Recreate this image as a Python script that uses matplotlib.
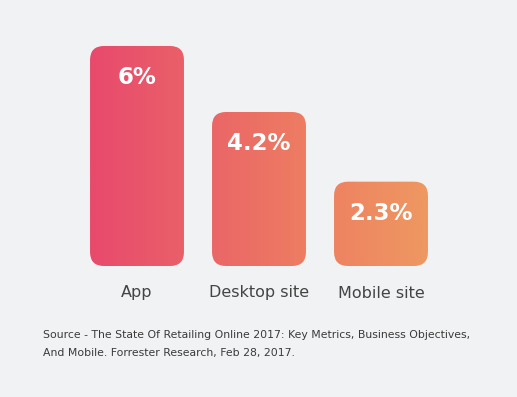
import numpy as np
import matplotlib
matplotlib.use("Agg")
import matplotlib.pyplot as plt
from matplotlib.patches import FancyBboxPatch
from matplotlib.colors import LinearSegmentedColormap

# data
categories = ["App", "Desktop site", "Mobile site"]
values = [6, 4.2, 2.3]
value_labels = ["6%", "4.2%", "2.3%"]
source = ("Source - The State Of Retailing Online 2017: Key Metrics, Business Objectives,\n"
          "And Mobile. Forrester Research, Feb 28, 2017.")

bg = "#f1f2f4"
W, H = 517, 397
fig = plt.figure(figsize=(W / 100, H / 100), dpi=100, facecolor=bg)

# axes placed so one category = 122 px, one unit = 36.67 px
px_x, px_y = 122.0, 36.67
ax = fig.add_axes([76 / W, 131 / H, 3 * px_x / W, 7 * px_y / H])
ax.set_xlim(-0.5, 2.5)
ax.set_ylim(0, 7)
ax.axis("off")
ax.set_facecolor(bg)

width = 0.77
rad = 14 / px_x
cmap = LinearSegmentedColormap.from_list("g", ["#e84a6d", "#ea6468", "#ee7f61", "#ee9862"])
x0, x1 = -width / 2, 2 + width / 2
grad = np.linspace(0, 1, 400).reshape(1, -1)

for i, (v, lab) in enumerate(zip(values, value_labels)):
    patch = FancyBboxPatch((i - width / 2, 0), width, v,
                           boxstyle=f"round,pad=0,rounding_size={rad}",
                           mutation_aspect=px_x / px_y,
                           facecolor="none", edgecolor="none")
    ax.add_patch(patch)
    im = ax.imshow(grad, cmap=cmap, extent=[x0, x1, 0, max(values)],
                   aspect="auto", interpolation="bilinear", zorder=1)
    im.set_clip_path(patch)
    ax.text(i, v - 32 / px_y, lab, ha="center", va="center", color="white",
            fontsize=16.5, fontweight="bold", zorder=3)
    ax.text(i, -27 / px_y, categories[i], ha="center", va="center",
            color="#444444", fontsize=11.5, clip_on=False)

fig.text(43 / W, 1 - 330 / H, source, ha="left", va="top", fontsize=7.8,
         color="#3a3a3a", linespacing=1.95)

fig.savefig("out.png", dpi=100, facecolor=bg)
